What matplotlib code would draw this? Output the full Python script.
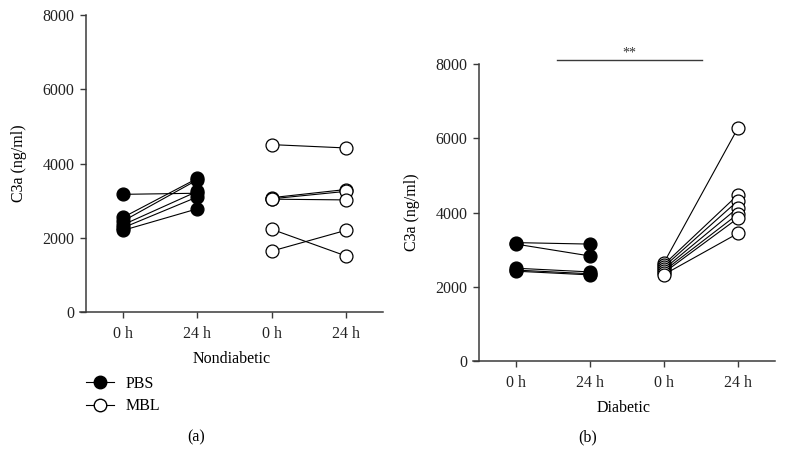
import numpy as np
import matplotlib.pyplot as plt
from matplotlib.lines import Line2D

plt.rcParams['font.family'] = ['Liberation Serif', 'DejaVu Serif']
plt.rcParams['font.size'] = 11.5

tick_labels = ["0 h", "24 h", "0 h", "24 h"]

# nondiabetic (a)
nd_pbs_0h = [3170, 2550, 2450, 2350, 2270, 2200]
nd_pbs_24h = [3200, 3600, 3560, 3250, 3100, 2780]
nd_mbl_0h = [4510, 3080, 3050, 3040, 2230, 1640]
nd_mbl_24h = [4420, 3300, 3250, 3020, 1510, 2200]

# diabetic (b)
d_pbs_0h = [3190, 3150, 2500, 2450, 2420]
d_pbs_24h = [3150, 2830, 2400, 2350, 2320]
d_mbl_0h = [2650, 2600, 2540, 2480, 2430, 2380, 2330]
d_mbl_24h = [6280, 4480, 4320, 4130, 3960, 3850, 3440]

spine_col = '#3a3a3a'


def paired(ax, x0, before, after, filled):
    for a, b in zip(before, after):
        ax.plot([x0, x0 + 1], [a, b], color='black', lw=0.8,
                marker='o', ms=9.3, mec='black', mew=0.9,
                mfc='black' if filled else 'white', clip_on=False, zorder=3)


def style(ax, xlabel):
    ax.set_xlim(-0.58, 3.5)
    ax.set_ylim(0, 8000)
    ax.set_yticks([0, 2000, 4000, 6000, 8000])
    ax.set_xticks([0, 1, 2, 3])
    ax.set_xticklabels(tick_labels)
    ax.spines['top'].set_visible(False)
    ax.spines['right'].set_visible(False)
    ax.spines['left'].set_position(('data', -0.5))
    for s in ['left', 'bottom']:
        ax.spines[s].set_color(spine_col)
        ax.spines[s].set_linewidth(1.1)
    ax.tick_params(direction='out', length=4.3, width=1.0, color=spine_col,
                   labelcolor='#222222')
    ax.tick_params(axis='x', pad=6)
    ax.tick_params(axis='y', pad=4)
    ax.set_ylabel("C3a (ng/ml)", labelpad=11)
    ax.set_xlabel(xlabel, labelpad=6)


fig = plt.figure(figsize=(7.86, 4.69), dpi=100)
ax1 = fig.add_axes([0.1018, 0.3348, 0.3855, 0.633])
ax2 = fig.add_axes([0.6018, 0.2303, 0.3842, 0.633])

paired(ax1, 0, nd_pbs_0h, nd_pbs_24h, True)
paired(ax1, 2, nd_mbl_0h, nd_mbl_24h, False)
style(ax1, "Nondiabetic")

paired(ax2, 0, d_pbs_0h, d_pbs_24h, True)
paired(ax2, 2, d_mbl_0h, d_mbl_24h, False)
style(ax2, "Diabetic")

# significance bar
ax2.plot([0.55, 2.52], [8100, 8100], color=spine_col, lw=1.0, clip_on=False)
ax2.text(1.53, 8110, "**", ha='center', va='bottom', fontsize=10, color='#333333')

handles = [
    Line2D([], [], color='black', lw=0.8, marker='o', ms=9, mfc='black', mec='black'),
    Line2D([], [], color='black', lw=0.8, marker='o', ms=9, mfc='white', mec='black'),
]
fig.legend(handles, ["PBS", "MBL"], loc='upper left',
           bbox_to_anchor=(86 / 786, 1 - 376 / 469), frameon=False,
           handlelength=1.75, handletextpad=0.75, labelspacing=0.4,
           borderaxespad=0, borderpad=0)

fig.text(196 / 786, 1 - 437 / 469, "(a)", ha='center', va='center')
fig.text(588 / 786, 1 - 437 / 469, "(b)", ha='center', va='center')

fig.savefig('out.png', dpi=100)
